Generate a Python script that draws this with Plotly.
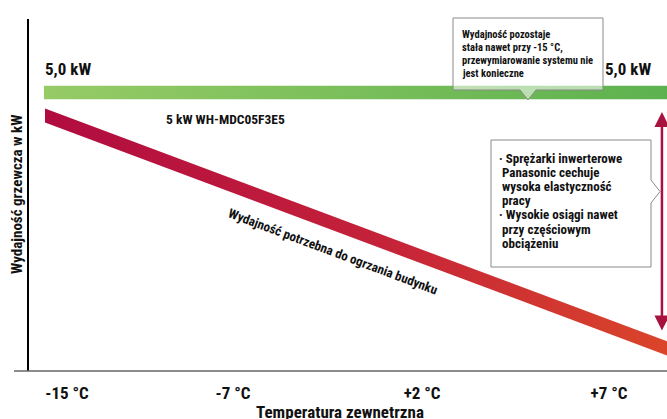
import plotly.graph_objects as go

# ---------------- data ----------------
TICK_LABELS = ["-15 °C", "-7 °C", "+2 °C", "+7 °C"]
TICK_POS = [0.0, 1.0, 2.139, 3.265]          # position of each temperature on the (non-linear) axis

CAPACITY_X = [-0.139, 3.62]                   # heat pump capacity (constant)
CAPACITY_KW = [5.0, 5.0]

DEMAND_X = [-0.1325, 3.62]                    # building heat demand
DEMAND_KW = [4.587, 0.40]

ARROW_X = 3.584
ARROW_KW = [4.65, 0.70]                       # top / bottom of the vertical range arrow

X_RANGE = [-0.229, 3.6145]
Y_RANGE = [0, 6.32]

MODEL_LABEL = "5 kW WH-MDC05F3E5"
CAP_LABEL = "5,0 kW"
DEMAND_LABEL = "Wydajność potrzebna do ogrzania budynku"
Y_TITLE = "Wydajność grzewcza w kW"
X_TITLE = "Temperatura zewnetrzna"
CALLOUT1 = ["Wydajność pozostaje", "stała nawet przy -15 °C,",
            "przewymiarowanie systemu nie", "jest konieczne"]
CALLOUT2 = ["· Sprężarki inwerterowe", "Panasonic cechuje", "wysoka elastyczność",
            "pracy", "· Wysokie osiągi nawet", "przy częściowym", "obciążeniu"]

# ---------------- style ----------------
FONT = "Roboto Condensed, Oswald, Liberation Sans Narrow, sans-serif"
W, H = 667, 419
L, R, T, B = 29, 667, 19, 371
RED_HALF = 0.126
GREEN_HALF = 0.121


def fx(p):
    return (p - L) / (R - L)


def fy(p):
    return (B - p) / (B - T)


def band(xs, ys, half):
    bx = [xs[0], xs[1], xs[1], xs[0], xs[0]]
    by = [ys[0] + half, ys[1] + half, ys[1] - half, ys[0] - half, ys[0] + half]
    return bx, by


fig = go.Figure()

gx, gy = band(CAPACITY_X, CAPACITY_KW, GREEN_HALF)
fig.add_trace(go.Scatter(
    x=gx, y=gy, mode="lines", fill="toself", line=dict(width=0),
    fillgradient=dict(type="horizontal",
                      colorscale=[[0, "#96cb66"], [1, "#5db24f"]]),
    hoverinfo="skip"))

rx, ry = band(DEMAND_X, DEMAND_KW, RED_HALF)
fig.add_trace(go.Scatter(
    x=rx, y=ry, mode="lines", fill="toself", line=dict(width=0),
    fillgradient=dict(type="horizontal",
                      colorscale=[[0, "#b00c40"], [0.5, "#c3203a"], [1, "#da452a"]]),
    hoverinfo="skip"))


def path(points):
    return "M " + " L ".join(f"{fx(a):.5f},{fy(b):.5f}" for a, b in points) + " Z"


shapes = [
    dict(type="line", xref="paper", yref="paper", x0=fx(14), x1=1, y0=0, y1=0,
         line=dict(color="#666666", width=1.5), layer="above"),
    dict(type="path", xref="paper", yref="paper",
         path=path([(453, 18), (603, 18), (603, 90), (536, 90), (528, 100), (520, 90), (453, 90)]),
         fillcolor="rgba(255,255,255,0.55)", line=dict(color="#8a8a8a", width=1), layer="above"),
    dict(type="path", xref="paper", yref="paper",
         path=path([(491, 140), (651, 140), (651, 180), (660, 191.5), (651, 203), (651, 267), (491, 267)]),
         fillcolor="white", line=dict(color="#8a8a8a", width=1), layer="above"),
]

ann = []


def txt(text, x, y, size, xanchor="left", yanchor="middle", angle=0):
    ann.append(dict(text=text, x=fx(x), y=fy(y), xref="paper", yref="paper",
                    xanchor=xanchor, yanchor=yanchor, showarrow=False, textangle=angle,
                    font=dict(family=FONT, size=size, color="#111111", weight="bold")))


txt(CAP_LABEL, 43, 68.5, 17)
txt(CAP_LABEL, 603, 69.5, 17)
txt(MODEL_LABEL, 164, 118.5, 13.5)
txt(DEMAND_LABEL, 333, 251, 13, xanchor="center", angle=20.5)
txt(Y_TITLE, 17, 195, 15, xanchor="center", angle=-90)
txt(X_TITLE, 340, 411.5, 17, xanchor="center")

for i, line in enumerate(CALLOUT1):
    txt(line, 460, 35 + i * 12.8, 10.5)
for i, line in enumerate(CALLOUT2):
    txt(line, 497 if line.startswith("·") else 500, 158 + i * 14.2, 13)

ann.append(dict(x=ARROW_X, y=ARROW_KW[0], ax=ARROW_X, ay=ARROW_KW[1],
                xref="x", yref="y", axref="x", ayref="y", text="",
                showarrow=True, arrowside="end+start", arrowhead=2, startarrowhead=2,
                arrowwidth=2.5, arrowsize=1.2, startarrowsize=1.2, arrowcolor="#a8123f"))

fig.update_layout(
    width=W, height=H,
    margin=dict(l=L, r=W - R, t=T, b=H - B),
    paper_bgcolor="white", plot_bgcolor="white",
    showlegend=False,
    shapes=shapes, annotations=ann,
    xaxis=dict(range=X_RANGE, tickvals=TICK_POS, ticktext=TICK_LABELS,
               showgrid=False, zeroline=False, showline=False,
               ticks="outside", ticklen=7, tickcolor="rgba(0,0,0,0)",
               tickfont=dict(family=FONT, size=17, color="#111111", weight="bold")),
    yaxis=dict(range=Y_RANGE, showgrid=False, zeroline=False, showticklabels=False,
               showline=True, linecolor="#000000", linewidth=1.5, ticks=""),
)

fig.write_html("out.html", config={"displayModeBar": False},
               post_script="document.body.style.margin='0';")
